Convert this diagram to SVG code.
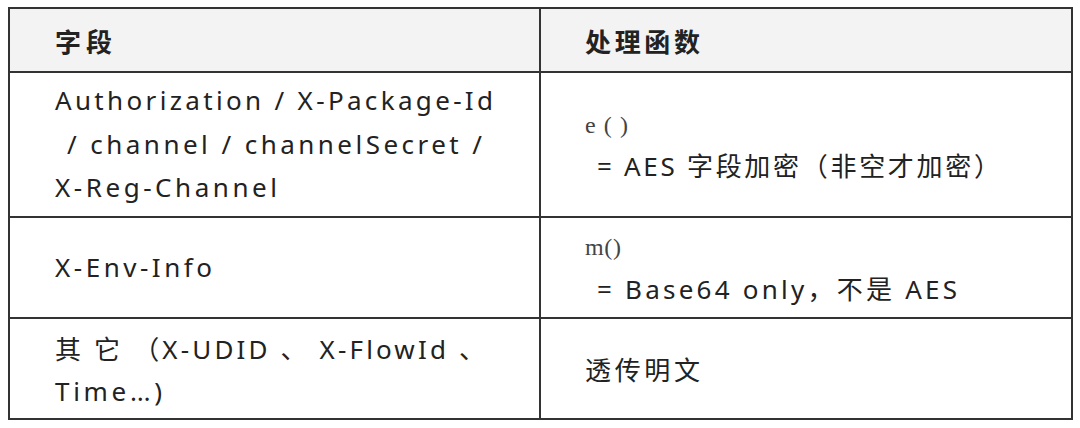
<svg xmlns="http://www.w3.org/2000/svg" width="1080" height="428" viewBox="0 0 1080 428">
<style>
.t{font-family:"Noto Sans","Noto Sans CJK SC",sans-serif;font-size:26px;fill:#222;}
.h{font-weight:bold;}
.c{font-family:"Liberation Serif","Noto Sans CJK SC",serif;font-size:24px;fill:#444;}
.l{stroke:#333;stroke-width:2;fill:none;}
</style>
<rect x="0" y="0" width="1080" height="428" fill="#fff"/>
<g id="table">
<rect x="9" y="8" width="1063" height="64" fill="#f3f3f3"/>
<rect class="l" x="9" y="8" width="1063" height="411"/>
<line class="l" x1="540" y1="8" x2="540" y2="419"/>
<line class="l" x1="9" y1="72" x2="1072" y2="72"/>
<line class="l" x1="9" y1="217" x2="1072" y2="217"/>
<line class="l" x1="9" y1="318" x2="1072" y2="318"/>
</g>
<g id="header">
<text class="t h" x="55" y="52" textLength="57" lengthAdjust="spacing">字段</text>
<text class="t h" x="585" y="52" textLength="115" lengthAdjust="spacing">处理函数</text>
</g>
<g id="row1">
<text class="t" x="55" y="110" textLength="438" lengthAdjust="spacing">Authorization / X-Package-Id</text>
<text class="t" x="67" y="154" textLength="415" lengthAdjust="spacing">/ channel / channelSecret /</text>
<text class="t" x="55" y="197" textLength="222" lengthAdjust="spacing">X-Reg-Channel</text>
<text class="c" x="585" y="133" textLength="43" lengthAdjust="spacing">e()</text>
<text class="t" x="597" y="176" textLength="403" lengthAdjust="spacing">= AES 字段加密（非空才加密）</text>
</g>
<g id="row2">
<text class="t" x="55" y="277" textLength="157" lengthAdjust="spacing">X-Env-Info</text>
<text class="c" x="585" y="255" textLength="36" lengthAdjust="spacing">m()</text>
<text class="t" x="597" y="299" textLength="360" lengthAdjust="spacing">= Base64 only，不是 AES</text>
</g>
<g id="row3">
<text class="t" x="55" y="359" textLength="430" lengthAdjust="spacing" xml:space="preserve">其 它 （X-UDID 、 X-FlowId 、</text>
<text class="t" x="55" y="401" textLength="107" lengthAdjust="spacing">Time…)</text>
<text class="t" x="585" y="380" textLength="115" lengthAdjust="spacing">透传明文</text>
</g>
<g id="connectors"/>
</svg>
